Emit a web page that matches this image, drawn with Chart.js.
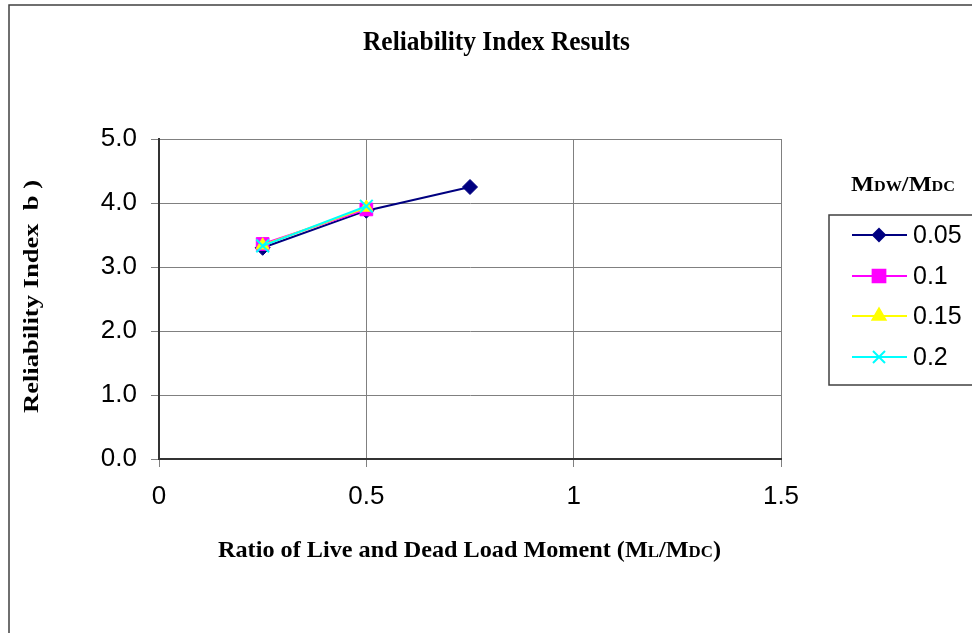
<!DOCTYPE html>
<html>
<head>
<meta charset="utf-8">
<script src="https://cdn.jsdelivr.net/npm/chart.js@4/dist/chart.umd.min.js"></script>
<style>
html,body{margin:0;padding:0;background:#fff;}
#wrap{width:972px;height:633px;position:relative;}
</style>
</head>
<body>
<div id="wrap"><canvas id="c" width="972" height="633"></canvas></div>
<script>
// ---- data ----
const ratio = [0.25, 0.5, 0.75];
const s005 = [3.30, 3.88, 4.25];
const s010 = [3.36, 3.90, null];
const s015 = [3.34, 3.93, null];
const s020 = [3.33, 3.95, null];
const seriesLabels = ['0.05', '0.1', '0.15', '0.2'];
const xTicks = [0, 0.5, 1, 1.5];
const yTicks = [0, 1, 2, 3, 4, 5];
const chartTitle = 'Reliability Index Results';

const seriesValues = [s005, s010, s015, s020];
const colors = ['#000080', '#FF00FF', '#FFFF00', '#00FFFF'];
const styles = ['rectRot', 'rect', 'triangle', 'crossRot'];
const radii = [7.5, 9, 7.5, 9];
const legendRadii = [6, 9, 7.5, 8.5];

const datasets = seriesValues.map((vals, i) => ({
  label: seriesLabels[i],
  data: ratio.map((x, k) => ({x: x, y: vals[k]})).filter(p => p.y !== null),
  borderColor: colors[i],
  backgroundColor: colors[i],
  borderWidth: 2,
  pointStyle: styles[i],
  pointRadius: radii[i],
  pointHoverRadius: radii[i],
  pointBorderWidth: i === 3 ? 2 : 1,
  pointBorderColor: colors[i],
  pointBackgroundColor: colors[i],
  tension: 0,
  order: 3 - i
}));

function drawParts(ctx, parts, x, y, targetW) {
  let total = 0;
  parts.forEach(p => { ctx.font = p.font; p.w = ctx.measureText(p.text).width; total += p.w; });
  const sx = targetW / total;
  ctx.save();
  ctx.translate(x, y);
  ctx.scale(sx, 1);
  let cx = 0;
  ctx.textBaseline = 'alphabetic';
  ctx.textAlign = 'left';
  parts.forEach(p => { ctx.font = p.font; ctx.fillText(p.text, cx, 0); cx += p.w; });
  ctx.restore();
}

const serif = '"Liberation Serif", "Times New Roman", serif';
const sans = '"Liberation Sans", Arial, sans-serif';

const decor = {
  id: 'decor',
  beforeDraw(chart) {
    const ctx = chart.ctx;
    ctx.save();
    ctx.fillStyle = '#fff';
    ctx.fillRect(0, 0, chart.width, chart.height);
    ctx.restore();
  },
  afterDraw(chart) {
    const ctx = chart.ctx;
    ctx.save();
    // outer frame
    ctx.strokeStyle = '#404040';
    ctx.lineWidth = 1.5;
    ctx.strokeRect(9, 5, 975, 650);
    ctx.fillStyle = '#000';
    // title
    drawParts(ctx, [{text: chartTitle, font: 'bold 27px ' + serif}], 363, 50, 267);
    // x title
    drawParts(ctx, [
      {text: 'Ratio of Live and Dead Load Moment (M', font: 'bold 23px ' + serif},
      {text: 'L', font: 'bold 16px ' + serif},
      {text: '/M', font: 'bold 23px ' + serif},
      {text: 'DC', font: 'bold 16px ' + serif},
      {text: ')', font: 'bold 23px ' + serif}
    ], 218, 557, 503);
    // y title
    ctx.save();
    ctx.translate(38, 413);
    ctx.rotate(-Math.PI / 2);
    drawParts(ctx, [
      {text: 'Reliability Index  ', font: 'bold 22px ' + serif},
      {text: 'b', font: 'bold 22px ' + serif},
      {text: ' )', font: 'bold 22px ' + serif}
    ], 0, 0, 233);
    ctx.restore();
    // legend title
    drawParts(ctx, [
      {text: 'M', font: 'bold 21px ' + serif},
      {text: 'DW', font: 'bold 14px ' + serif},
      {text: '/M', font: 'bold 21px ' + serif},
      {text: 'DC', font: 'bold 14px ' + serif}
    ], 851, 191, 104);
    // legend box
    ctx.strokeStyle = '#404040';
    ctx.lineWidth = 1.5;
    ctx.strokeRect(829, 215, 160, 170);
    const rows = [235, 276, 316, 357];
    chart.data.datasets.forEach((ds, i) => {
      const y = rows[i];
      ctx.strokeStyle = ds.borderColor;
      ctx.lineWidth = 2;
      ctx.beginPath();
      ctx.moveTo(852, y);
      ctx.lineTo(907, y);
      ctx.stroke();
      ctx.fillStyle = ds.backgroundColor;
      Chart.helpers.drawPoint(ctx, {
        pointStyle: ds.pointStyle,
        radius: legendRadii[i],
        rotation: 0,
        borderWidth: ds.pointBorderWidth
      }, 879, y);
      ctx.fillStyle = '#000';
      ctx.font = '25px ' + sans;
      ctx.textBaseline = 'middle';
      ctx.textAlign = 'left';
      ctx.fillText(ds.label, 913, y + 1);
    });
    ctx.restore();
  }
};

new Chart(document.getElementById('c'), {
  type: 'line',
  data: { datasets: datasets },
  options: {
    responsive: false,
    animation: false,
    events: [],
    layout: { padding: { left: 0, right: 191, top: 139, bottom: 104 } },
    plugins: { legend: { display: false }, title: { display: false }, tooltip: { enabled: false } },
    scales: {
      x: {
        type: 'linear',
        min: 0, max: 1.5,
        afterBuildTicks(scale) { scale.ticks = xTicks.map(v => ({value: v})); },
        afterFit(scale) { scale.height = 70; },
        ticks: {
          color: '#000',
          font: { family: sans, size: 26 },
          padding: 14,
          maxRotation: 0,
          callback: v => String(v)
        },
        grid: { color: '#808080', lineWidth: 1, tickLength: 8, tickColor: '#808080' },
        border: { color: '#333333', width: 2 }
      },
      y: {
        type: 'linear',
        min: 0, max: 5,
        afterBuildTicks(scale) { scale.ticks = yTicks.map(v => ({value: v})); },
        afterFit(scale) { scale.width = 159; },
        ticks: {
          color: '#000',
          font: { family: sans, size: 26 },
          padding: 14,
          callback: v => Number(v).toFixed(1)
        },
        grid: { color: '#808080', lineWidth: 1, tickLength: 8, tickColor: '#808080' },
        border: { color: '#333333', width: 2 }
      }
    }
  },
  plugins: [decor]
});
</script>
</body>
</html>
